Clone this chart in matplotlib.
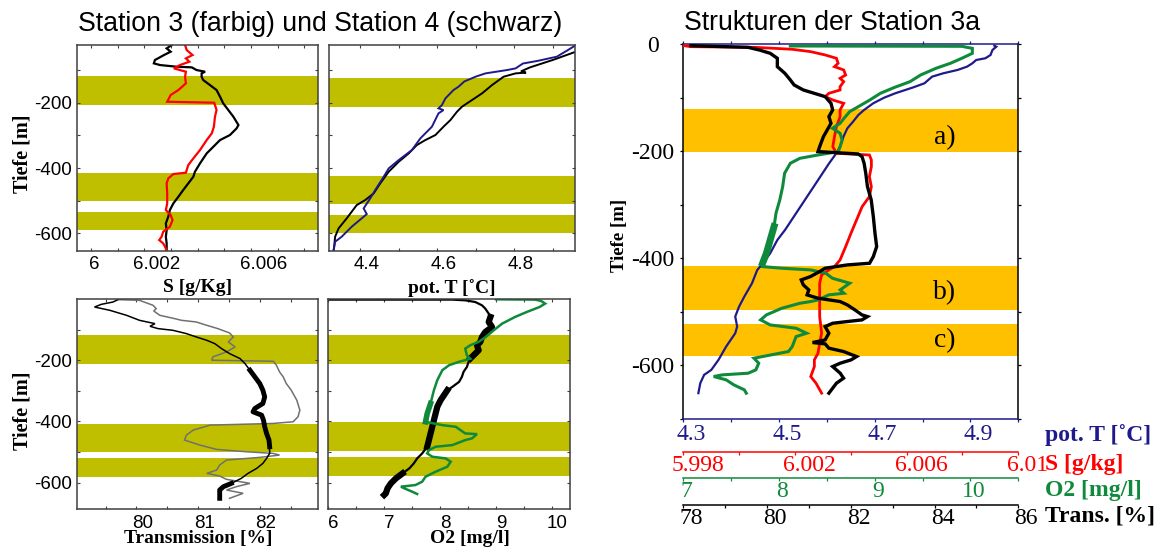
import numpy as np
import matplotlib.pyplot as plt
from matplotlib.transforms import ScaledTranslation

plt.rcParams['axes.unicode_minus'] = False
plt.rcParams['font.family'] = ['Liberation Sans', 'DejaVu Sans']

SERIF = ['Liberation Serif', 'DejaVu Serif']
NAVY = '#1f1a8c'
RED = '#ff0000'
GREEN = '#0f8a3c'
GRAY = '#707070'
OLIVE = '#bfbf00'
ORANGE = '#ffc000'

# --- Station 3 (farbig) / Station 4 (schwarz), Tiefe in m ---
s3_sal_depth = [-23.5, -38.8, -54.1, -64.3, -74.5, -84.7, -94.9, -105.1, -120.4, -140.8, -161.2, -176.5,
                -197, -200, -207, -222.4, -242.9, -273.5, -293.9, -314.3, -344.9, -370.4, -390.8, -414.3,
                -418.4, -431.6, -446.9, -477.6, -508.2, -528.6, -543.9, -559.2, -579.6, -594.9, -610.2,
                -620.4, -630.6, -640.8, -653]
s3_sal = [6.00353, 6.00359, 6.00381, 6.00356, 6.00369, 6.00334, 6.00311, 6.00356, 6.00353, 6.00356, 6.00328,
          6.00299, 6.00286, 6.00462, 6.00465, 6.00471, 6.00465, 6.00461, 6.00453, 6.00434, 6.00409, 6.00384,
          6.00365, 6.00356, 6.00309, 6.00290, 6.00284, 6.00286, 6.00286, 6.00281, 6.00299, 6.00306, 6.00296,
          6.00271, 6.00265, 6.00256, 6.00271, 6.00278, 6.00284]

s4_sal_depth = [-23.5, -33.7, -43.9, -54.1, -69.4, -79.6, -84.7, -89.8, -91.8, -100, -105.1, -110.2, -120.4,
                -130.6, -145.9, -161.2, -181.6, -202, -222.4, -242.9, -268.4, -278.6, -299, -314.3, -334.7,
                -355.1, -385.7, -411.2, -426.5, -446.9, -467.3, -487.7, -508.2, -528.6, -549, -569.4, -589.8,
                -610.2, -630.6, -653]
s4_sal = [6.00303, 6.00284, 6.00299, 6.00274, 6.00240, 6.00236, 6.00259, 6.00321, 6.00378, 6.00396, 6.00428,
          6.00415, 6.00415, 6.00421, 6.00446, 6.00471, 6.00484, 6.00496, 6.00515, 6.00534, 6.00553, 6.00546,
          6.00521, 6.00484, 6.00459, 6.00434, 6.00409, 6.00390, 6.00384, 6.00365, 6.00346, 6.00328, 6.00309,
          6.00296, 6.00290, 6.00281, 6.00284, 6.00281, 6.00284, 6.00284]

s3_temp_depth = [-24, -38.6, -59.1, -72, -80, -94.9, -100, -110.2, -120, -135, -151, -161.2, -186.7, -207.1,
                 -217.3, -222.4, -232.7, -273.5, -309.2, -344.9, -375.5, -401, -426.5, -467.3, -492.9, -523.5,
                 -540.8, -549, -579.6, -610.2, -625.5, -653]
s3_temp = [4.959, 4.939, 4.910, 4.860, 4.822, 4.803, 4.781, 4.725, 4.700, 4.670, 4.655, 4.642, 4.621, 4.612,
           4.603, 4.616, 4.603, 4.586, 4.556, 4.534, 4.500, 4.474, 4.461, 4.439, 4.426, 4.409, 4.417, 4.409,
           4.378, 4.352, 4.335, 4.331]

s4_temp_depth = [-44, -69, -92, -104, -108, -110.2, -120.4, -145.9, -171.4, -191.8, -212.2, -227.6, -253.1,
                 -273.5, -299, -314.3, -329.6, -355.1, -380.6, -411.2, -446.9, -477.6, -498, -513.3, -533.7,
                 -554.1, -584.7, -610.2, -635.7, -653]
s4_temp = [4.959, 4.900, 4.840, 4.817, 4.830, 4.803, 4.772, 4.742, 4.716, 4.690, 4.664, 4.651, 4.634, 4.616,
           4.595, 4.569, 4.547, 4.526, 4.500, 4.474, 4.452, 4.435, 4.413, 4.391, 4.378, 4.365, 4.344, 4.335,
           4.333, 4.331]

s3_trans_depth = [-2, -4.3, -20.6, -31.5, -39.1, -53.3, -64.1, -69.6, -75, -85.9, -96.7, -110.9, -123.9, -140.2,
                  -156.5, -172.8, -189.1, -200, -203.3, -216.3, -238, -254.4, -276.1, -297.8, -330.4, -363,
                  -384.8, -401.1, -406.5, -412, -428.3, -444.6, -460.9, -477.2, -491.3, -498.9, -504.4, -509.8,
                  -517.4, -526.1, -542.4, -558.7, -569.6, -578.3, -589.1, -602.2, -613.1, -623.9, -634.8, -651.1]
s3_trans = [79.70, 80.05, 80.27, 80.32, 80.28, 80.38, 80.62, 80.73, 80.97, 81.14, 81.32, 81.51, 81.57, 81.49,
            81.60, 81.46, 81.24, 81.22, 82.22, 82.27, 82.32, 82.38, 82.43, 82.51, 82.60, 82.65, 82.62, 82.54,
            82.22, 81.19, 80.92, 80.81, 80.78, 81.03, 81.30, 81.78, 82.22, 82.32, 82.00, 81.46, 81.35, 81.30,
            81.14, 81.35, 81.46, 81.84, 81.62, 81.46, 81.73, 81.51]

s4_trans_depth = [-2, -9.8, -17.4, -26.1, -37, -53.3, -69.6, -80.4, -89.1, -96.7, -102.2, -113, -123.9, -134.8,
                  -145.7, -162, -178.3, -194.6, -210.9, -232.6, -254.4, -276.1, -297.8, -319.6, -341.3, -357.6,
                  -368.5, -379.4, -395.7, -417.4, -439.1, -460.9, -482.6, -504.4, -520.7, -537, -553.3, -569.6,
                  -585.9, -602.2, -613.1, -623.9, -640.2, -651.1]
s4_trans = [79.70, 79.62, 79.43, 79.32, 79.57, 79.84, 80.05, 80.30, 80.22, 80.35, 80.59, 80.81, 80.97, 81.14,
            81.27, 81.38, 81.51, 81.68, 81.76, 81.84, 81.92, 82.00, 82.05, 82.08, 82.05, 81.92, 81.89, 82.03,
            82.06, 82.08, 82.11, 82.15, 82.16, 82.16, 82.11, 82.05, 81.95, 81.81, 81.70, 81.54, 81.41, 81.35,
            81.35, 81.35]

s3_o2_depth = [-1, -2, -6.5, -15, -26, -42.4, -58.7, -80.4, -102.2, -125, -140, -151, -162, -184, -195, -205,
               -216.3, -232.6, -265.2, -297.8, -341.3, -373.9, -401.1, -412, -417.4, -439.1, -441.3, -455.4,
               -460.9, -477.2, -482.6, -493.5, -504.4, -515.2, -520.7, -531.6, -547.9, -564.2, -580.5, -596.8,
               -607.7, -613.1, -618.5, -629.4, -637]
s3_o2 = [9.00, 9.70, 9.81, 9.88, 9.78, 9.55, 9.34, 9.11, 8.96, 8.81, 8.69, 8.54, 8.45, 8.48, 8.54, 8.34, 8.16,
         8.04, 7.95, 7.89, 7.83, 7.77, 7.74, 8.04, 8.28, 8.45, 8.66, 8.57, 8.45, 8.22, 7.92, 7.80, 7.77, 7.86,
         8.10, 8.19, 8.13, 7.92, 7.74, 7.68, 7.56, 7.30, 7.36, 7.50, 7.59]

s4_o2_depth = [-2, -2, -4.3, -9.8, -20.6, -31.5, -47.8, -58.7, -75, -91.3, -107.6, -123.9, -140.2, -151.1,
               -167.4, -183.7, -194.6, -205.4, -221.7, -238, -254.4, -270.7, -287, -297.8, -314.1, -330.4,
               -352.2, -373.9, -395.7, -417.4, -439.1, -460.9, -482.6, -504.4, -520.7, -537, -553.3, -569.6,
               -585.9, -602.2, -618.5, -634.8, -640.2]
s4_o2 = [6.02, 8.22, 8.45, 8.63, 8.75, 8.81, 8.87, 8.90, 8.87, 8.93, 8.81, 8.75, 8.72, 8.66, 8.69, 8.60, 8.54,
         8.51, 8.48, 8.42, 8.39, 8.34, 8.22, 8.13, 8.07, 8.01, 7.95, 7.92, 7.89, 7.86, 7.83, 7.80, 7.77, 7.68,
         7.59, 7.53, 7.45, 7.33, 7.21, 7.12, 7.06, 7.03, 7.00]

# --- Station 3a ---
st3a_temp_depth = [-2.5, -4.4, -10.6, -19.9, -26.1, -29.3, -35.5, -41.7, -47.9, -54.2, -60.4, -72.8, -80.3,
                   -91.5, -99.6, -110.2, -122.6, -132, -144.4, -156.9, -172.4, -191.1, -203.6, -222.2, -253.4,
                   -284.5, -315.6, -346.7, -365.4, -390.3, -409, -421.4, -446.3, -471.2, -489.9, -508.6, -527.3,
                   -539.7, -564.6, -589.5, -608.2, -617.5, -633.1, -651.7]
st3a_temp = [4.950, 4.954, 4.946, 4.942, 4.931, 4.912, 4.904, 4.893, 4.873, 4.843, 4.820, 4.804, 4.781, 4.743,
             4.720, 4.697, 4.678, 4.666, 4.655, 4.643, 4.635, 4.628, 4.620, 4.605, 4.582, 4.559, 4.536, 4.513,
             4.497, 4.482, 4.467, 4.455, 4.444, 4.428, 4.417, 4.409, 4.413, 4.409, 4.390, 4.374, 4.359, 4.344,
             4.336, 4.332]

st3a_sal_depth = [-2.5, -4.4, -5.6, -9.3, -13.7, -19.9, -26.1, -35.5, -41.7, -47.9, -57.3, -63.5, -69.7, -79.1,
                  -85.3, -91.5, -97.7, -104, -110.2, -122.6, -135.1, -153.8, -172.4, -191.1, -203.6, -206.7,
                  -216, -228.5, -247.1, -265.8, -284.5, -303.2, -328.1, -353, -377.9, -402.8, -415.2, -421.4,
                  -430.8, -446.3, -477.5, -508.6, -539.7, -558.4, -577.1, -589.5, -602, -620.6, -633.1, -651.7]
st3a_sal = [5.99803, 5.99829, 6.00059, 6.00191, 6.00257, 6.00309, 6.00349, 6.00355, 6.00342, 6.00375, 6.00382,
            6.00362, 6.00375, 6.00362, 6.00362, 6.00322, 6.00309, 6.00336, 6.00375, 6.00362, 6.00362, 6.00349,
            6.00342, 6.00336, 6.00349, 6.00467, 6.00474, 6.00474, 6.00467, 6.00474, 6.00467, 6.00441, 6.00421,
            6.00401, 6.00382, 6.00362, 6.00342, 6.00322, 6.00296, 6.00289, 6.00289, 6.00289, 6.00296, 6.00289,
            6.00283, 6.00270, 6.00270, 6.00257, 6.00276, 6.00296]

st3a_o2_depth = [-3.1, -3.7, -7.5, -16.8, -26.1, -35.5, -44.8, -57.3, -69.7, -80.3, -91.5, -104, -116.4, -125.7,
                 -138.2, -147.5, -156.9, -166.2, -178.7, -191.1, -200.4, -206.7, -212.9, -222.2, -240.9, -265.8,
                 -290.7, -315.6, -340.5, -365.4, -390.3, -409, -415.2, -418.3, -421.4, -427.7, -437, -446.3,
                 -458.8, -465, -468.1, -477.5, -480.6, -483.7, -493.1, -505.5, -514.8, -524.2, -530.4, -539.7,
                 -546, -564.6, -573.9, -583.3, -586.4, -595.7, -608.2, -614.4, -617.5, -620.6, -626.8, -636.2,
                 -645.5, -651.7]
st3a_o2 = [8.12, 9.91, 10.02, 10.02, 9.91, 9.79, 9.64, 9.48, 9.37, 9.21, 9.06, 8.95, 8.83, 8.74, 8.68, 8.64,
           8.56, 8.64, 8.66, 8.64, 8.62, 8.41, 8.22, 8.12, 8.06, 8.04, 8.01, 7.97, 7.95, 7.91, 7.87, 7.83, 7.83,
           8.03, 8.33, 8.49, 8.56, 8.74, 8.64, 8.68, 8.52, 8.41, 8.33, 8.22, 8.03, 7.87, 7.81, 7.91, 8.18, 8.29,
           8.18, 8.14, 8.10, 7.83, 7.74, 7.79, 7.76, 7.68, 7.41, 7.32, 7.45, 7.53, 7.64, 7.66]

st3a_trans_depth = [-2.5, -5.6, -10.6, -16.8, -26.1, -41.7, -54.2, -66.6, -75.9, -85.3, -91.5, -97.7, -110.2,
                    -122.6, -135.1, -147.5, -160, -172.4, -191.1, -200.4, -204.8, -209.8, -222.2, -240.9, -265.8,
                    -290.7, -321.8, -353, -377.9, -396.5, -409, -412.1, -418.3, -424.5, -433.9, -440.1, -449.4,
                    -458.8, -468.1, -474.3, -480.6, -486.8, -496.1, -505.5, -508.6, -514.8, -517.9, -521.1,
                    -527.3, -539.7, -552.2, -557.1, -559.6, -567.7, -573.9, -583.3, -589.5, -595.7, -602,
                    -614.4, -623.7, -633.1, -642.4, -651.7]
st3a_trans = [78.19, 79.55, 79.82, 80.08, 80.25, 80.25, 80.43, 80.56, 80.65, 80.87, 81.13, 81.39, 81.53, 81.57,
              81.48, 81.53, 81.44, 81.35, 81.26, 81.22, 82.18, 82.27, 82.32, 82.36, 82.40, 82.49, 82.54, 82.58,
              82.62, 82.54, 82.45, 81.92, 81.39, 81.26, 81.04, 80.82, 80.87, 81.00, 80.96, 81.22, 81.75, 81.92,
              82.10, 82.27, 82.40, 82.27, 81.92, 81.57, 81.39, 81.48, 81.39, 81.09, 81.39, 81.48, 81.83, 82.14,
              82.01, 81.75, 81.57, 81.75, 81.83, 81.66, 81.57, 81.48]

# markierte Tiefenbereiche (untere, obere Grenze)
bands_sal = [(-207, -118), (-501, -414), (-590, -534)]
bands_temp = [(-212, -123), (-510, -423), (-598, -544)]
bands_trans = [(-213, -118), (-501, -409), (-580, -518)]
bands_o2 = [(-211, -118), (-497, -403), (-577, -515)]
bands_3a = [(-202, -121), (-496, -415), (-583, -522)]
band_names = ['a)', 'b)', 'c)']
band_name_depth = [-174, -463, -554]

depth_ticks = [-600, -500, -400, -300, -200, -100]
depth_labels = ['-600', '', '-400', '', '-200', '']

sal_ticks = [6.0, 6.001, 6.002, 6.003, 6.004, 6.005, 6.006, 6.007, 6.008]
sal_labels = ['6', '', '6.002', '', '', '', '6.006', '', '']
temp_ticks = [4.4, 4.5, 4.6, 4.7, 4.8, 4.9]
temp_labels = ['4.4', '', '4.6', '', '4.8', '']
trans_ticks = [79.5, 80, 80.5, 81, 81.5, 82, 82.5]
trans_labels = ['', '80', '', '81', '', '82', '']
o2_ticks = [6, 6.5, 7, 7.5, 8, 8.5, 9, 9.5, 10]
o2_labels = ['6', '', '7', '', '8', '', '9', '', '10']

fig = plt.figure(figsize=(11.67, 5.52), dpi=100)


def shift_xlabels(ax, dx):
    # Beschriftungen leicht nach rechts versetzt (dx in Pixeln)
    if np.isscalar(dx):
        dx = [dx] * len(ax.get_xticklabels())
    for lbl, d in zip(ax.get_xticklabels(), dx):
        lbl.set_transform(lbl.get_transform() + ScaledTranslation(d / 100, 0, fig.dpi_scale_trans))


def draw(ax, x, d, color, lw, thick=(), thick_lw=3.5):
    x = np.asarray(x)
    d = np.asarray(d)
    ax.plot(x, d, color=color, lw=lw, solid_joinstyle='miter')
    for lo, hi in thick:
        m = (d >= lo) & (d <= hi)
        ax.plot(x[m], d[m], color=color, lw=thick_lw)


def panel(rect, xlim, ylim, ticks, labels, bands, xlabel, lab_x, lab_y, show_depth):
    ax = fig.add_axes(rect)
    for lo, hi in bands:
        ax.axhspan(lo, hi, color=OLIVE, lw=0, zorder=0)
    ax.set_xlim(xlim)
    ax.set_ylim(ylim)
    ax.set_xticks(ticks, labels)
    ax.set_yticks(depth_ticks, depth_labels if show_depth else [])
    ax.tick_params(direction='in', top=True, right=True, length=2.5, width=0.8,
                   labelsize=13.5, pad=4, color='#404040')
    for sp in ax.spines.values():
        sp.set_color('#404040')
        sp.set_linewidth(1.1)
    ax.text(lab_x, lab_y, xlabel, transform=ax.transAxes, ha='center', va='center',
            family=SERIF, weight='bold', fontsize=14)
    if show_depth:
        ax.text(-0.228, 0.47, 'Tiefe [m]', transform=ax.transAxes, rotation=90,
                ha='center', va='center', family=SERIF, weight='bold', fontsize=14.5)
    return ax


ax1 = panel([0.0662, 0.5458, 0.2065, 0.3726], (5.99949, 6.00852), (-653, -23.5),
            sal_ticks, sal_labels, bands_sal, 'S [g/Kg]', 0.5, -0.18, True)
draw(ax1, s4_sal, s4_sal_depth, 'black', 1.6)
draw(ax1, s3_sal, s3_sal_depth, RED, 1.6)
shift_xlabels(ax1, [3, 0, 12, 0, 0, 0, 13, 0, 0])

ax2 = panel([0.2822, 0.5458, 0.2105, 0.3726], (4.320, 4.957), (-653, -23.5),
            temp_ticks, temp_labels, bands_temp, 'pot. T [˚C]', 0.5, -0.18, False)
draw(ax2, s4_temp, s4_temp_depth, 'black', 1.4)
draw(ax2, s3_temp, s3_temp_depth, NAVY, 1.4)
shift_xlabels(ax2, 6)

ax3 = panel([0.0662, 0.0779, 0.2066, 0.3804], (79.04, 82.95), (-686, 0),
            trans_ticks, trans_labels, bands_trans, 'Transmission [%]', 0.5, -0.14, True)
draw(ax3, s3_trans, s3_trans_depth, GRAY, 1.1)
draw(ax3, s4_trans, s4_trans_depth, 'black', 1.1, thick=[(-500, -230), (-652, -600)])
shift_xlabels(ax3, 6)

ax4 = panel([0.2813, 0.0779, 0.2074, 0.3804], (6.0, 10.33), (-686, 0),
            o2_ticks, o2_labels, bands_o2, 'O2 [mg/l]', 0.585, -0.14, False)
draw(ax4, s4_o2, s4_o2_depth, 'black', 1.6, thick=[(-200, -55), (-490, -290), (-641, -560)], thick_lw=4.5)
draw(ax4, s3_o2, s3_o2_depth, GREEN, 1.8, thick=[(-402, -300)], thick_lw=4)
shift_xlabels(ax4, 5)

fig.text(0.2746, 0.9565, 'Station 3 (farbig) und Station 4 (schwarz)', ha='center', va='center', fontsize=19.2)

# Station 3a mit vier x-Achsen
axr = fig.add_axes([0.5853, 0.2409, 0.2873, 0.6788])
for lo, hi in bands_3a:
    axr.axhspan(lo, hi, color=ORANGE, lw=0, zorder=0)
axr.set_ylim(-700, 0)
axr.set_xlim(4.3, 5.0)

twins = [
    (RED, (5.998, 6.010), 23.5,
     [5.998, 6.0, 6.002, 6.004, 6.006, 6.008, 6.01], ['5.998', '', '6.002', '', '6.006', '', '6.01'],
     [15, 0, 15, 0, 15, 0, 9]),
    (GREEN, (7.0, 10.5), 42.3,
     [7, 7.5, 8, 8.5, 9, 9.5, 10, 10.5], ['7', '', '8', '', '9', '', '10', ''], 3),
    ('black', (78, 86), 61.9,
     [78, 79, 80, 81, 82, 83, 84, 85, 86], ['78', '', '80', '', '82', '', '84', '', '86'], 8),
]
twin_axes = []
for color, lim, off, ticks, labels, dx in twins:
    tw = axr.twiny()
    tw.set_xlim(lim)
    tw.xaxis.set_ticks_position('bottom')
    tw.spines['bottom'].set_position(('outward', off))
    tw.spines['bottom'].set_color(color)
    tw.spines['bottom'].set_linewidth(1.1)
    for sp in ('top', 'left', 'right'):
        tw.spines[sp].set_visible(False)
    tw.set_xticks(ticks, labels)
    tw.tick_params(axis='x', colors=color, direction='out', length=2.5, width=0.9,
                   labelsize=17, pad=0, labelfontfamily='Liberation Serif')
    shift_xlabels(tw, dx)
    twin_axes.append(tw)

tw_s, tw_o, tw_t = twin_axes
draw(axr, st3a_temp, st3a_temp_depth, NAVY, 1.6)
draw(tw_s, st3a_sal, st3a_sal_depth, RED, 2.0)
draw(tw_o, st3a_o2, st3a_o2_depth, GREEN, 2.2, thick=[(-415, -330)], thick_lw=5)
draw(tw_t, st3a_trans, st3a_trans_depth, 'black', 2.4)

axr.set_xticks(np.arange(4.3, 5.05, 0.1), ['4.3', '', '4.5', '', '4.7', '', '4.9', ''])
axr.set_yticks(np.arange(-700, 1, 100), ['', '-600', '', '-400', '', '-200', '', '0'])
axr.tick_params(axis='x', colors=NAVY, direction='out', top=True, bottom=True, length=2.5,
                width=0.9, labelsize=17, pad=1, labelfontfamily='Liberation Serif')
axr.tick_params(axis='y', direction='out', left=True, right=True, length=2.5, width=0.9,
                labelsize=17, pad=19, labelfontfamily='Liberation Serif')
for lbl in axr.get_yticklabels():
    lbl.set_horizontalalignment('center')
shift_xlabels(axr, 8)
axr.spines['top'].set_color(NAVY)
axr.spines['bottom'].set_color(NAVY)
for sp in axr.spines.values():
    sp.set_linewidth(1.1)
axr.text(-0.19, 0.49, 'Tiefe [m]', transform=axr.transAxes, rotation=90, ha='center', va='center',
         family=SERIF, weight='bold', fontsize=13.5)
for name, d in zip(band_names, band_name_depth):
    axr.text(4.847, d, name, ha='center', va='center', family=SERIF, fontsize=20)

fig.text(0.5861, 0.959, 'Strukturen der Station 3a', ha='left', va='center', fontsize=19.2)

for label, color, y in [('pot. T [˚C]', NAVY, 0.212), ('S [g/kg]', RED, 0.159),
                        ('O2 [mg/l]', GREEN, 0.112), ('Trans. [%]', 'black', 0.065)]:
    fig.text(0.8955, y, label, ha='left', va='center', color=color, family=SERIF,
             weight='bold', fontsize=17)

fig.savefig('out.png', dpi=100)
